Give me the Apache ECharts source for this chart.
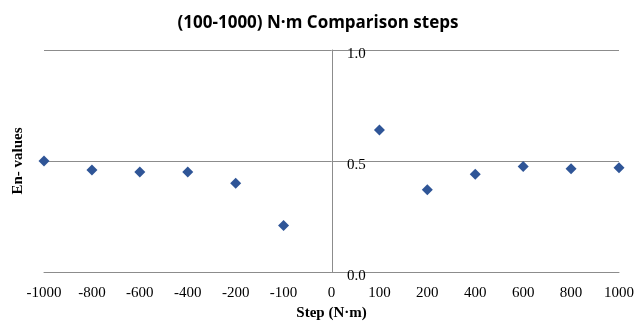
<!DOCTYPE html>
<html>
<head>
<meta charset="utf-8">
<script src="https://cdn.jsdelivr.net/npm/echarts@6/dist/echarts.min.js"></script>
<style>
  html, body { margin: 0; padding: 0; background: #fff; }
  #chart { width: 636px; height: 323px; }
</style>
</head>
<body>
<div id="chart"></div>
<script>
var steps = ["-1000", "-800", "-600", "-400", "-200", "-100", "0", "100", "200", "400", "600", "800", "1000"];
var enValues = [0.50, 0.46, 0.45, 0.45, 0.40, 0.21, "-", 0.64, 0.37, 0.44, 0.475, 0.465, 0.47];
var yTicks = [0, 0.5, 1.0];

var myChart = echarts.init(document.getElementById("chart"));
var serif = "'Liberation Serif', 'DejaVu Serif', serif";
var gray = "#8c8c8c";

var option = {
  backgroundColor: "#fff",
  animation: false,
  title: {
    text: "(100-1000) N·m Comparison steps",
    left: "center",
    top: 10,
    textStyle: {
      fontFamily: "'Open Sans', 'Liberation Sans', sans-serif",
      fontWeight: "bold",
      fontSize: 17,
      color: "#000"
    }
  },
  grid: {
    left: 44,
    right: 17,
    top: 50,
    bottom: 51,
    outerBoundsMode: "none"
  },
  xAxis: {
    type: "category",
    data: steps,
    boundaryGap: false,
    name: "Step (N·m)",
    nameLocation: "middle",
    nameGap: 34,
    nameTextStyle: { fontFamily: serif, fontWeight: "bold", fontSize: 15, color: "#000" },
    axisTick: { show: false },
    axisLine: { lineStyle: { color: gray, width: 1 } },
    axisLabel: { fontFamily: serif, fontSize: 15, color: "#000", margin: 14, interval: 0 },
    splitLine: { show: false }
  },
  yAxis: {
    type: "value",
    min: yTicks[0],
    max: yTicks[yTicks.length - 1],
    interval: 0.5,
    offset: -288,
    name: "En- values",
    nameLocation: "middle",
    nameRotate: 90,
    nameGap: 306,
    nameTextStyle: { fontFamily: serif, fontWeight: "bold", fontSize: 15, color: "#000" },
    axisLine: { show: true, lineStyle: { color: gray, width: 1 } },
    axisTick: { show: false },
    axisLabel: {
      inside: true,
      margin: 15,
      fontFamily: serif,
      fontSize: 15,
      color: "#000",
      verticalAlign: "top",
      lineHeight: 8,
      formatter: function (v) { return v.toFixed(1); }
    },
    splitLine: { show: true, lineStyle: { color: gray, width: 1 } }
  },
  series: [
    {
      type: "scatter",
      data: enValues,
      symbol: "diamond",
      symbolSize: 11,
      itemStyle: { color: "#2f5597", opacity: 1 }
    }
  ]
};

myChart.setOption(option);
</script>
</body>
</html>
